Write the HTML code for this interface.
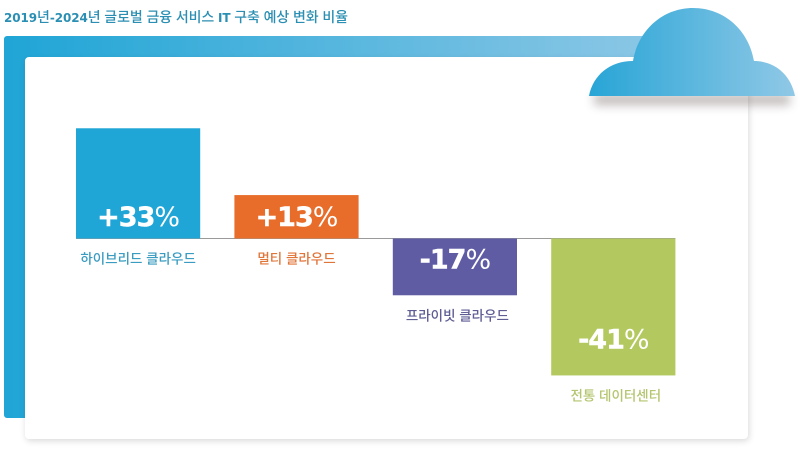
<!DOCTYPE html>
<html lang="ko">
<head>
<meta charset="utf-8">
<title>2019년-2024년 글로벌 금융 서비스 IT 구축 예상 변화 비율</title>
<style>
html,body{margin:0;padding:0;background:#fff;}
body{width:800px;height:450px;overflow:hidden;}
svg{display:block;}
.cjk{font-family:"Liberation Sans","Noto Sans CJK KR",sans-serif;}
.num{font-family:"DejaVu Sans","Liberation Sans",sans-serif;}
.latin{font-family:"DejaVu Sans","Liberation Sans",sans-serif;font-weight:700;font-size:12px;}
</style>
</head>
<body>
<svg id="chart" xmlns="http://www.w3.org/2000/svg" width="800" height="450" viewBox="0 0 800 450">
  <defs>
    <linearGradient id="frameGrad" gradientUnits="userSpaceOnUse" x1="4" y1="0" x2="680" y2="0">
      <stop offset="0" stop-color="#1fa5d6"/>
      <stop offset="1" stop-color="#90c8e6"/>
    </linearGradient>
    <linearGradient id="cloudGrad" gradientUnits="userSpaceOnUse" x1="589" y1="0" x2="795" y2="0">
      <stop offset="0" stop-color="#27a5d6"/>
      <stop offset="1" stop-color="#90c8e6"/>
    </linearGradient>
    <filter id="cardShadow" x="-5%" y="-5%" width="110%" height="110%">
      <feGaussianBlur stdDeviation="3.5"/>
    </filter>
    <filter id="cloudShadow" x="-10%" y="-150%" width="120%" height="400%">
      <feGaussianBlur stdDeviation="5"/>
    </filter>
  </defs>

  <text class="cjk" x="4" y="22" font-size="14" font-weight="500" fill="#2b8fb3" textLength="344" lengthAdjust="spacing"><tspan class="latin">2019</tspan>년<tspan class="latin">-2024</tspan>년 글로벌 금융 서비스 <tspan class="latin">IT</tspan> 구축 예상 변화 비율</text>

  <path d="M7 36H680V60H26V418H7a3 3 0 0 1-3-3V39a3 3 0 0 1 3-3Z" fill="url(#frameGrad)"/>

  <rect x="26" y="60" width="723" height="381" rx="4" fill="#000" opacity="0.15" filter="url(#cardShadow)"/>
  <rect x="25" y="57" width="723" height="382" rx="4" fill="#fff"/>

  <rect x="594" y="94" width="196" height="11" fill="#5a4a4a" opacity="0.38" filter="url(#cloudShadow)"/>
  <path d="M589 96C593 75 610 61 633 61C638 31 662 8 693 8C725 8 749 31 754 61C775 61 791 75 795 96Z" fill="url(#cloudGrad)"/>

  <g id="plot"></g>
</svg>
<script>
const categories = ['하이브리드 클라우드', '멀티 클라우드', '프라이빗 클라우드', '전통 데이터센터'];
const values = [33, 13, -17, -41];
const valueLabels = ['+33', '+13', '-17', '-41'];
const barColors = ['#1fa5d6', '#e86d2a', '#5f5ca4', '#b3c95f'];
const labelColors = ['#3a9cc0', '#e0753a', '#5f5d94', '#b3c56f'];

const NS = 'http://www.w3.org/2000/svg';
const plot = document.getElementById('plot');
const baselineY = 238.5;
const unitPx = 3.34;
const firstBarX = 76;
const barStep = 158.4;
const barWidth = 124.2;

function xScale(i) { return firstBarX + i * barStep; }
function yScale(v) { return baselineY - v * unitPx; }
function labelNudge(v) { return v < 0 ? 2.5 : 0; }
function make(tag, attrs, text) {
  const el = document.createElementNS(NS, tag);
  Object.keys(attrs).forEach(function (k) { el.setAttribute(k, attrs[k]); });
  if (text !== undefined) el.textContent = text;
  return el;
}

const axis = make('line', { x1: xScale(0), x2: xScale(values.length - 1) + barWidth, y1: baselineY, y2: baselineY, stroke: '#9a9a9a', 'stroke-width': 1 });


plot.appendChild(axis);

values.forEach(function (v, i) {
  const x = xScale(i);
  const end = yScale(v);
  const top = Math.min(end, baselineY);
  const h = Math.abs(end - baselineY);
  const cx = x + barWidth / 2;

  const bar = make('rect', { x: x, y: top, width: barWidth, height: h, fill: barColors[i] });
  
  
  plot.appendChild(bar);

  const valueY = v >= 0 ? baselineY - 12.5 : end - 27;
  const valueText = make('text', { x: cx, y: valueY, 'text-anchor': 'middle', 'font-size': 27, 'letter-spacing': -1, fill: '#fff', class: 'num' });
  
  
  const numSpan = make('tspan', { 'font-weight': 700, stroke: '#fff', 'stroke-width': 0.5 }, valueLabels[i]);
  const pctSpan = make('tspan', { 'font-weight': 400 }, '%');
  valueText.appendChild(numSpan);
  valueText.appendChild(pctSpan);
  plot.appendChild(valueText);

  const catY = v >= 0 ? baselineY + 25 : end + 25;
  const catText = make('text', { x: cx + labelNudge(v), y: catY, 'text-anchor': 'middle', 'font-size': 13.5, 'font-weight': 500, fill: labelColors[i], class: 'cjk' }, categories[i]);
  
  
  plot.appendChild(catText);
});
</script>
</body>
</html>
